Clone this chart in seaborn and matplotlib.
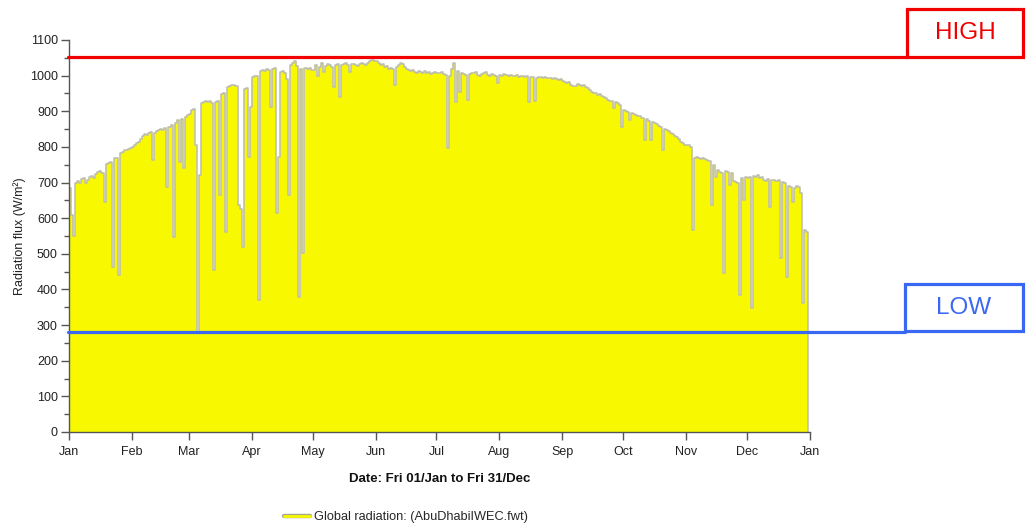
import numpy as np
import pandas as pd
import matplotlib
matplotlib.use("Agg")
import matplotlib.pyplot as plt
import matplotlib.patheffects as pe
from matplotlib.lines import Line2D
from matplotlib.patches import Rectangle
from matplotlib.ticker import MultipleLocator
import seaborn as sns

# Daily global radiation (W/m²), Abu Dhabi IWEC weather file, one list per month
jan = [685, 610, 550, 700, 705, 698, 710, 712, 700, 706, 715, 718, 712, 725, 730, 733,
       728, 645, 752, 756, 758, 463, 768, 770, 440, 782, 785, 790, 792, 795, 798]
feb = [800, 805, 810, 815, 822, 830, 836, 834, 838, 842, 763, 840, 845, 848, 850, 847,
       852, 688, 856, 861, 548, 866, 875, 757, 878, 740, 885, 889]
mar = [892, 903, 905, 805, 278, 721, 922, 926, 930, 925, 928, 924, 455, 926, 930, 665,
       948, 951, 561, 968, 972, 975, 973, 970, 637, 625, 519, 962, 966, 772, 912]
apr = [996, 1000, 998, 370, 1012, 1016, 1014, 1018, 1016, 912, 1020, 1022, 614, 772, 1010,
       1012, 1008, 990, 665, 1030, 1036, 1040, 1028, 379, 1020, 502, 1021, 1018, 1022, 1016]
may = [1015, 1030, 1000, 1025, 1035, 1010, 1028, 1032, 1030, 1025, 968, 1030, 1032, 940,
       1030, 1033, 1035, 1030, 1010, 1032, 1034, 1030, 1028, 1032, 1035, 1033, 1030, 1036,
       1040, 1044, 1042]
jun = [1040, 1036, 1030, 1032, 1025, 1028, 1020, 1022, 1018, 974, 1025, 1030, 1035, 1032,
       1025, 1018, 1015, 1012, 1016, 1010, 1008, 1012, 1010, 1006, 1012, 1008, 1010, 1004,
       1008, 1010]
jul = [1008, 1006, 1010, 1004, 1002, 797, 1000, 1020, 1035, 926, 1012, 955, 1008, 1005,
       1003, 931, 1005, 1008, 1006, 1010, 1002, 1000, 1004, 1008, 1010, 1003, 1000, 1005,
       1002, 1000, 979]
aug = [1002, 1000, 1005, 1002, 1000, 1003, 998, 1000, 1002, 997, 1000, 998, 995, 998, 926,
       996, 995, 930, 994, 996, 995, 992, 996, 994, 992, 994, 990, 992, 990, 988, 990]
sep = [985, 983, 980, 982, 975, 970, 972, 976, 975, 970, 973, 968, 964, 960, 955, 952, 950,
       946, 948, 942, 940, 936, 932, 930, 928, 910, 926, 922, 918, 856]
oct_ = [903, 900, 898, 875, 895, 893, 890, 888, 886, 882, 819, 878, 874, 819, 870, 866, 864,
        860, 855, 791, 850, 847, 845, 840, 836, 832, 828, 822, 815, 810, 806]
nov = [806, 804, 800, 567, 770, 772, 768, 765, 770, 766, 762, 760, 637, 749, 716, 735, 730,
       727, 446, 732, 730, 693, 728, 705, 702, 700, 384, 712, 651, 715]
dec = [712, 715, 348, 718, 716, 720, 712, 715, 708, 705, 710, 631, 706, 708, 704, 706, 488,
       702, 700, 435, 690, 688, 645, 686, 690, 688, 670, 362, 567, 560, 555]

month_labels = ["Jan", "Feb", "Mar", "Apr", "May", "Jun", "Jul", "Aug", "Sep", "Oct",
                "Nov", "Dec", "Jan"]
month_starts = [0, 31, 59, 90, 120, 151, 181, 212, 243, 273, 304, 334, 365]

high_level = 1051
low_level = 282

series_label = "Global radiation: (AbuDhabiIWEC.fwt)"
x_title = "Date: Fri 01/Jan to Fri 31/Dec"
y_title = "Radiation flux (W/m²)"

sns.set_theme(style="ticks")
plt.rcParams["font.family"] = ["Liberation Sans", "DejaVu Sans"]

flux = np.array(jan + feb + mar + apr + may + jun + jul + aug + sep + oct_ + nov + dec)
days = np.arange(len(flux))
df = pd.DataFrame({"day": days, "flux": flux})

W, H = 1026, 526
fig = plt.figure(figsize=(W / 100, H / 100), dpi=100)
ax = fig.add_axes([69 / W, 1 - 432 / H, 741 / W, 392 / H])

fill_color = "#f8f800"
edge_color = "#bcbcae"
red = "#f00000"
blue = "#3a68f2"
axis_color = "#555555"

ax.fill_between(df["day"], df["flux"], step="post", facecolor=fill_color,
                edgecolor="none", zorder=1)
sns.lineplot(data=df, x="day", y="flux", drawstyle="steps-post", color=edge_color,
             lw=1.1, ax=ax, zorder=2, legend=False)
ax.vlines(days[-1], 0, flux[-1], color=edge_color, lw=1.1, zorder=2)

ax.set_xlim(0, 365)
ax.set_ylim(0, 1100)
ax.set_xticks(month_starts)
ax.set_xticklabels(month_labels)
ax.yaxis.set_major_locator(MultipleLocator(100))
ax.yaxis.set_minor_locator(MultipleLocator(50))
ax.tick_params(axis="both", which="major", direction="out", length=6, width=1,
               color=axis_color, labelsize=9, labelcolor="#222222")
ax.tick_params(axis="x", which="major", pad=4)
ax.tick_params(axis="y", which="major", pad=2)
ax.tick_params(axis="y", which="minor", direction="out", length=3.5, width=1,
               color=axis_color)
sns.despine(ax=ax)
for side in ("left", "bottom"):
    ax.spines[side].set_color(axis_color)
    ax.spines[side].set_linewidth(1)

ax.set_xlabel(x_title, fontsize=9.5, fontweight="bold", color="#111111", labelpad=11)
ax.set_ylabel(y_title, fontsize=9, color="#222222", labelpad=3)

# Threshold lines running out to the labelled boxes on the right
ax_w = 741.0
ax.axhline(high_level, xmin=-1 / ax_w, xmax=(907 - 69) / ax_w, color=red, lw=2.3,
           clip_on=False, zorder=5)
ax.axhline(low_level, xmin=-1 / ax_w, xmax=(905 - 69) / ax_w, color=blue, lw=2.3,
           clip_on=False, zorder=5)

def label_box(x0, y0, x1, y1, text, color):
    fig.add_artist(Rectangle((x0 / W, 1 - y1 / H), (x1 - x0) / W, (y1 - y0) / H,
                             transform=fig.transFigure, fill=False, edgecolor=color,
                             lw=2.3))
    fig.text((x0 + x1) / 2 / W, 1 - (y0 + y1) / 2 / H, text, color=color, fontsize=17.5,
             ha="center", va="center")

label_box(907, 9, 1023, 57, "HIGH", red)
label_box(905, 284, 1023, 331, "LOW", blue)

handle = Line2D([], [], color=fill_color, lw=2,
                path_effects=[pe.Stroke(linewidth=3.2, foreground="#a8a890"), pe.Normal()])
fig.legend(handles=[handle], labels=[series_label], loc="center",
           bbox_to_anchor=(406 / W, 1 - 517 / H), frameon=False, fontsize=9.2,
           handlelength=2.0, handletextpad=0.3)

fig.savefig("out.png", dpi=100)
